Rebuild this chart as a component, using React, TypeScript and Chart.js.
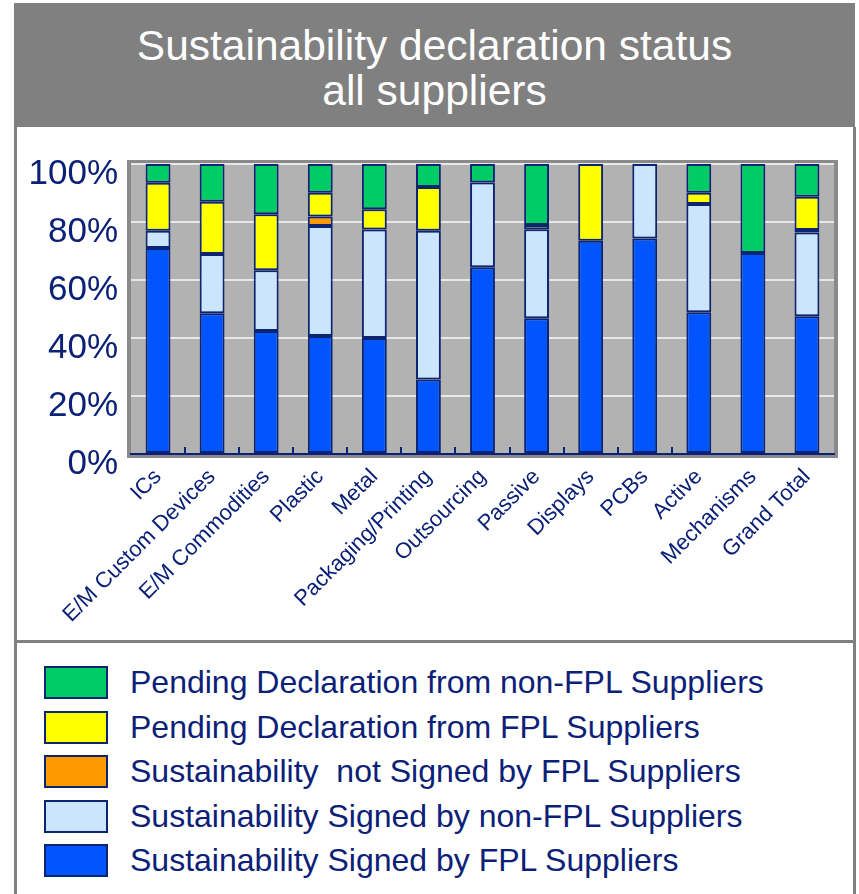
import React, { useEffect, useRef } from "react";
import { Chart, registerables } from "chart.js";

Chart.register(...registerables);

const categories = [
  "ICs",
  "E/M Custom Devices",
  "E/M Commodities",
  "Plastic",
  "Metal",
  "Packaging/Printing",
  "Outsourcing",
  "Passive",
  "Displays",
  "PCBs",
  "Active",
  "Mechanisms",
  "Grand Total",
];

// stacked bottom -> top
const signedFPL = [71, 48.5, 42.4, 40.7, 40, 25.7, 64.4, 46.8, 73.5, 74.3, 48.9, 69.3, 47.5];
const signedNonFPL = [6, 20.5, 21, 37.9, 37.4, 51.3, 29.2, 30.7, 0, 25.7, 37.3, 0, 28.9];
const notSignedFPL = [0, 0, 0, 3.3, 0, 0, 0, 0, 0, 0, 0, 0, 0.8];
const pendingFPL = [16.5, 18, 19.3, 8.2, 7, 15.1, 0, 1.5, 26.5, 0, 3.9, 0, 11.5];
const pendingNonFPL = [6.5, 13, 17.3, 9.9, 15.6, 7.9, 6.4, 21, 0, 0, 9.9, 30.7, 11.3];

const seriesNames = [
  "Sustainability Signed by FPL Suppliers",
  "Sustainability Signed by non-FPL Suppliers",
  "Sustainability  not Signed by FPL Suppliers",
  "Pending Declaration from FPL Suppliers",
  "Pending Declaration from non-FPL Suppliers",
];
const seriesValues = [signedFPL, signedNonFPL, notSignedFPL, pendingFPL, pendingNonFPL];
const seriesColors = ["#0055ff", "#cce5ff", "#ff9900", "#ffff00", "#00cc66"];

const yTicks = [0, 20, 40, 60, 80, 100];

const NAVY = "#0b2178";
const BORDER = "#0c2472";
const FONT = "'Liberation Sans', Arial, Helvetica, sans-serif";
const GRAY = "#808080";

const plotFrame = {
  id: "plotFrame",
  beforeDraw(chart: any) {
    const { ctx, chartArea } = chart;
    const { left, top, right, bottom } = chartArea;
    ctx.save();
    ctx.fillStyle = "#b2b2b2";
    ctx.fillRect(left, top, right - left, bottom - top);
    ctx.strokeStyle = "#8a8a8a";
    ctx.lineWidth = 4;
    ctx.strokeRect(left - 2, top - 2, right - left + 4, bottom - top + 4);
    ctx.restore();
  },
  afterDatasetsDraw(chart: any) {
    const { ctx, chartArea } = chart;
    const xs = chart.scales.x;
    ctx.save();
    ctx.strokeStyle = NAVY;
    ctx.lineWidth = 2;
    for (let i = 1; i <= 10; i++) {
      const x = Math.round((xs.getPixelForValue(i - 1) + xs.getPixelForValue(i)) / 2);
      ctx.beginPath();
      ctx.moveTo(x, chartArea.bottom);
      ctx.lineTo(x, chartArea.bottom - 7);
      ctx.stroke();
    }
    ctx.restore();
  },
};

function BarChart() {
  const ref = useRef<HTMLCanvasElement>(null);
  useEffect(() => {
    if (!ref.current) return;
    const chart = new Chart(ref.current, {
      type: "bar",
      data: {
        labels: categories,
        datasets: seriesValues.map((vals, i) => ({
          label: seriesNames[i],
          data: vals,
          backgroundColor: seriesColors[i],
          borderColor: BORDER,
          borderWidth: 2,
          borderSkipped: false,
          barPercentage: 0.46,
          categoryPercentage: 1,
        })),
      },
      options: {
        animation: false,
        responsive: false,
        devicePixelRatio: 1,
        layout: { padding: { top: 37, right: 19, left: 0, bottom: 0 } },
        plugins: {
          legend: { display: false },
          title: { display: false },
          tooltip: { enabled: false },
        },
        scales: {
          x: {
            stacked: true,
            grid: { display: false, drawTicks: false },
            border: { display: true, color: NAVY, width: 2 },
            ticks: {
              autoSkip: false,
              minRotation: 45,
              maxRotation: 45,
              padding: 10,
              color: NAVY,
              font: { family: FONT, size: 22 },
            },
            afterFit(scale: any) {
              scale.height = 183;
              scale.paddingLeft = 0;
              scale.paddingRight = 0;
            },
          },
          y: {
            stacked: true,
            min: 0,
            max: 100,
            afterBuildTicks(scale: any) {
              scale.ticks = yTicks.map((v) => ({ value: v }));
            },
            grid: { color: "#e8e8e8", lineWidth: 2, drawTicks: false },
            border: { display: false },
            ticks: {
              padding: 13,
              labelOffset: 10,
              color: NAVY,
              font: { family: FONT, size: 35 },
              callback: (v: any) => v + "%",
            },
            afterFit(scale: any) {
              scale.width = 114;
              scale.paddingTop = 0;
              scale.paddingBottom = 0;
            },
          },
        },
      },
      plugins: [plotFrame],
    });
    return () => chart.destroy();
  }, []);
  return (
    <canvas
      ref={ref}
      width={836}
      height={510}
      style={{ position: "absolute", left: 17, top: 127, width: 836, height: 510 }}
    />
  );
}

export default function App() {
  const legendOrder = [4, 3, 2, 1, 0];
  return (
    <div
      style={{
        position: "absolute",
        left: 0,
        top: 0,
        width: 859,
        height: 894,
        overflow: "hidden",
        background: "#ffffff",
        fontFamily: FONT,
      }}
    >
      <div
        style={{
          position: "absolute",
          left: 14,
          top: 3,
          width: 841,
          height: 124,
          background: GRAY,
          color: "#ffffff",
          fontSize: 42.5,
          lineHeight: "45px",
          textAlign: "center",
          paddingTop: 20,
          boxSizing: "border-box",
        }}
      >
        Sustainability declaration status
        <br />
        all suppliers
      </div>
      <div
        style={{
          position: "absolute",
          left: 14,
          top: 127,
          width: 842,
          height: 516,
          borderLeft: `3px solid ${GRAY}`,
          borderRight: `3px solid ${GRAY}`,
          borderBottom: `3px solid ${GRAY}`,
          boxSizing: "border-box",
        }}
      />
      <div
        style={{
          position: "absolute",
          left: 14,
          top: 643,
          width: 842,
          height: 260,
          borderLeft: `3px solid ${GRAY}`,
          borderRight: `3px solid ${GRAY}`,
          boxSizing: "border-box",
        }}
      />
      <BarChart />
      {legendOrder.map((si, row) => (
        <div
          key={si}
          style={{
            position: "absolute",
            left: 44,
            top: 666 + row * 44.6,
            height: 33,
            display: "flex",
            alignItems: "center",
            whiteSpace: "pre",
          }}
        >
          <div
            style={{
              width: 64,
              height: 33,
              boxSizing: "border-box",
              border: `2px solid ${BORDER}`,
              background: seriesColors[si],
            }}
          />
          <span style={{ marginLeft: 22, fontSize: 32, color: NAVY, lineHeight: "33px" }}>
            {seriesNames[si]}
          </span>
        </div>
      ))}
    </div>
  );
}
